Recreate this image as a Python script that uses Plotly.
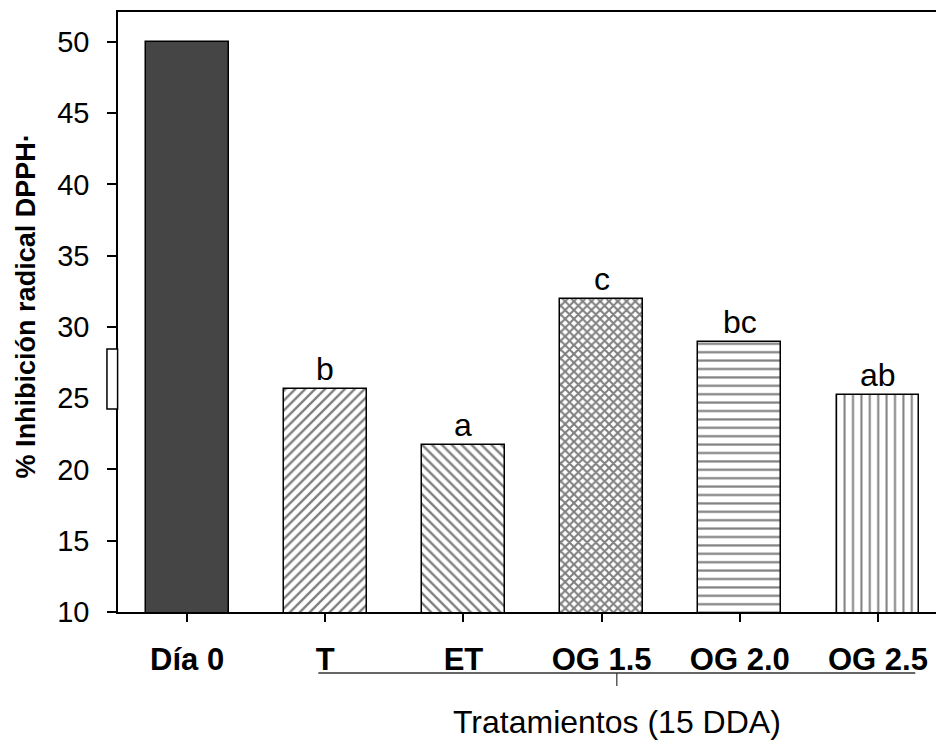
import plotly.graph_objects as go

categories = ["Día 0", "T", "ET", "OG 1.5", "OG 2.0", "OG 2.5"]
values = [50.0, 25.65, 21.75, 31.95, 28.95, 25.2]
letters = ["", "b", "a", "c", "bc", "ab"]
patterns = ["", "/", "\\", "x", "-", "|"]
fills = ["#454545", "white", "white", "white", "white", "white"]
y_ticks = [10, 15, 20, 25, 30, 35, 40, 45, 50]

FONT = "Liberation Sans, Arial, sans-serif"
xpos = list(range(len(categories)))

pattern_sizes = [8, 7, 7, 6.2, 8.4, 8.4]
pattern_solid = [0.2, 0.34, 0.34, 0.55, 0.26, 0.24]

fig = go.Figure()
for i, (c, v) in enumerate(zip(categories, values)):
    marker = dict(color=fills[i], line=dict(color="black", width=1.5))
    if patterns[i]:
        marker["pattern"] = dict(shape=patterns[i], fgcolor="black", bgcolor="white",
                                 size=pattern_sizes[i], solidity=pattern_solid[i],
                                 fillmode="overlay")
    fig.add_trace(go.Bar(x=[xpos[i]], y=[v], width=0.6, marker=marker,
                         showlegend=False, hoverinfo="skip"))

for i, (v, t) in enumerate(zip(values, letters)):
    if t:
        fig.add_annotation(x=xpos[i], y=v, text=t, showarrow=False, yanchor="bottom",
                           xanchor="center", yshift=0,
                           font=dict(family=FONT, size=32, color="black"))

# Y-axis title
fig.add_annotation(xref="paper", yref="paper", x=-0.112, y=0.51,
                   text="% Inhibición radical DPPH·", textangle=-90,
                   showarrow=False, xanchor="center", yanchor="middle",
                   font=dict(family=FONT, size=27, color="black", weight="bold"))

# Bracket under treatment groups (T ... OG 2.5)
b_start = xpos[1] - 0.05
b_end = xpos[5] + 0.27
b_mid = (b_start + b_end) / 2
fig.add_shape(type="line", xref="x", yref="paper", x0=b_start, x1=b_end,
              y0=-0.1017, y1=-0.1017, line=dict(color="#333333", width=1.5))
fig.add_shape(type="line", xref="x", yref="paper", x0=b_mid, x1=b_mid,
              y0=-0.1017, y1=-0.1233, line=dict(color="#333333", width=1.2))
fig.add_annotation(xref="x", yref="paper", x=b_mid, y=-0.183,
                   text="Tratamientos (15 DDA)", showarrow=False,
                   xanchor="center", yanchor="middle",
                   font=dict(family=FONT, size=32, color="black"))

# small box artifact at left of y axis
fig.add_shape(type="rect", xref="paper", yref="y", x0=-0.0135, x1=-0.0005,
              y0=24.25, y1=28.45, line=dict(color="black", width=1.5),
              fillcolor="white")

fig.update_layout(
    width=936, height=744,
    margin=dict(l=118, r=0, t=12, b=132),
    paper_bgcolor="white", plot_bgcolor="white",
    bargap=0,
    font=dict(family=FONT, color="black"),
    xaxis=dict(range=[-0.5, 5.42], tickvals=xpos, ticktext=categories,
               showline=True, linecolor="black", linewidth=1.5, mirror=True,
               ticks="outside", ticklen=8, tickwidth=1.5, tickcolor="black",
               tickfont=dict(family=FONT, size=31, color="black", weight="bold"),
               ticklabelstandoff=11, showgrid=False, zeroline=False, fixedrange=True),
    yaxis=dict(range=[10, 52.1], tickvals=y_ticks,
               showline=True, linecolor="black", linewidth=1.5, mirror=False,
               ticks="outside", ticklen=9, tickwidth=1.5, tickcolor="black",
               tickfont=dict(family=FONT, size=29, color="black"),
               ticklabelstandoff=12, showgrid=False, zeroline=False, fixedrange=True),
)

fig.write_html("out.html")
